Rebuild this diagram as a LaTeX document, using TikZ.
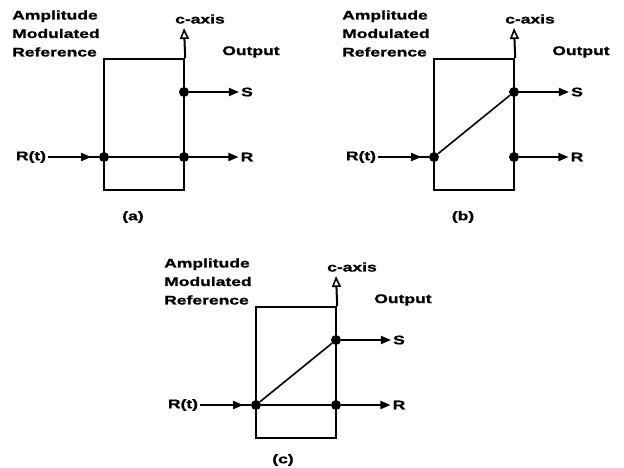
\documentclass[tikz,border=0pt]{standalone}
\usepackage{fontspec}
\newfontfamily\lblfont{Liberation Sans}[FakeStretch=1.4, FakeBold=1.2]
\usetikzlibrary{arrows.meta,decorations.markings}
\tikzset{
  lbl/.style={
    font=\lblfont\bfseries\fontsize{12.5}{18.5}\selectfont,
    inner sep=2pt
  },
  dot/.style={
    circle,
    fill=black,
    inner sep=0pt,
    minimum size=10pt
  },
  frame box/.style={
    draw,
    line width=2.4pt,
    inner sep=0pt,
    minimum width=80pt,
    minimum height=131pt
  },
  caxis/.style={
    line width=2pt,
    -{Triangle[open, length=11pt, width=9pt, line width=1.6pt]}
  },
  outarrow/.style={
    line width=1.8pt,
    -{Triangle[length=10pt, width=8pt]}
  },
  inarrow/.style={
    line width=1.5pt,
    postaction={decorate},
    decoration={markings, mark=at position 0.85 with {\arrow{Triangle[length=10pt, width=8pt]}}}
  },
  link/.style={
    line width=1.6pt
  }
}

\begin{document}
\begin{tikzpicture}[x=1pt, y=-1pt]

  \useasboundingbox[fill=white] (0,0) rectangle (624,467);

  % Panel (a)
  \begin{scope}
    \node[lbl, anchor=west, align=left, inner sep=0pt] (a-amr) at (12,33.5) {Amplitude\\Modulated\\Reference};
    \node[lbl] (a-cax) at (200,19) {c-axis};
    \node[lbl] (a-out) at (251,52) {Output};
    \node[frame box] (a-box) at (144,124.5) {};
    \coordinate (a-top) at (184,28);
    \node[dot] (a-s) at (184,92) {};
    \node[dot] (a-r) at (184,157) {};
    \node[dot] (a-in) at (104,157) {};
    \node[lbl] (a-rt) at (31,157) {R(t)};
    \node[lbl] (a-sl) at (247,92) {S};
    \node[lbl] (a-rl) at (247,157) {R};
    \node[lbl] (a-cap) at (133,217) {(a)};

    \draw[caxis] (a-box.north east) -- (a-top);
    \draw[inarrow] (a-rt) -- (a-in);
    \draw[link] (a-in) -- (a-r);
    \draw[outarrow] (a-s) -- (a-sl);
    \draw[outarrow] (a-r) -- (a-rl);
  \end{scope}

  % Panel (b)
  \begin{scope}[shift={(330,0)}]
    \node[lbl, anchor=west, align=left, inner sep=0pt] (b-amr) at (12,33.5) {Amplitude\\Modulated\\Reference};
    \node[lbl] (b-cax) at (200,19) {c-axis};
    \node[lbl] (b-out) at (251,52) {Output};
    \node[frame box] (b-box) at (144,124.5) {};
    \coordinate (b-top) at (184,28);
    \node[dot] (b-s) at (184,92) {};
    \node[dot] (b-r) at (184,157) {};
    \node[dot] (b-in) at (104,157) {};
    \node[lbl] (b-rt) at (31,157) {R(t)};
    \node[lbl] (b-sl) at (247,92) {S};
    \node[lbl] (b-rl) at (247,157) {R};
    \node[lbl] (b-cap) at (133,217) {(b)};

    \draw[caxis] (b-box.north east) -- (b-top);
    \draw[inarrow] (b-rt) -- (b-in);
    \draw[link] (b-in) -- (b-s);
    \draw[outarrow] (b-s) -- (b-sl);
    \draw[outarrow] (b-r) -- (b-rl);
  \end{scope}

  % Panel (c)
  \begin{scope}[shift={(152,248)}]
    \node[lbl, anchor=west, align=left, inner sep=0pt] (c-amr) at (12,33.5) {Amplitude\\Modulated\\Reference};
    \node[lbl] (c-cax) at (200,19) {c-axis};
    \node[lbl] (c-out) at (251,52) {Output};
    \node[frame box] (c-box) at (144,124.5) {};
    \coordinate (c-top) at (184,28);
    \node[dot] (c-s) at (184,92) {};
    \node[dot] (c-r) at (184,157) {};
    \node[dot] (c-in) at (104,157) {};
    \node[lbl] (c-rt) at (31,157) {R(t)};
    \node[lbl] (c-sl) at (247,92) {S};
    \node[lbl] (c-rl) at (247,157) {R};
    \node[lbl] (c-cap) at (131,212) {(c)};

    \draw[caxis] (c-box.north east) -- (c-top);
    \draw[inarrow] (c-rt) -- (c-in);
    \draw[link] (c-in) -- (c-r);
    \draw[link] (c-in) -- (c-s);
    \draw[outarrow] (c-s) -- (c-sl);
    \draw[outarrow] (c-r) -- (c-rl);
  \end{scope}

\end{tikzpicture}
\end{document}
